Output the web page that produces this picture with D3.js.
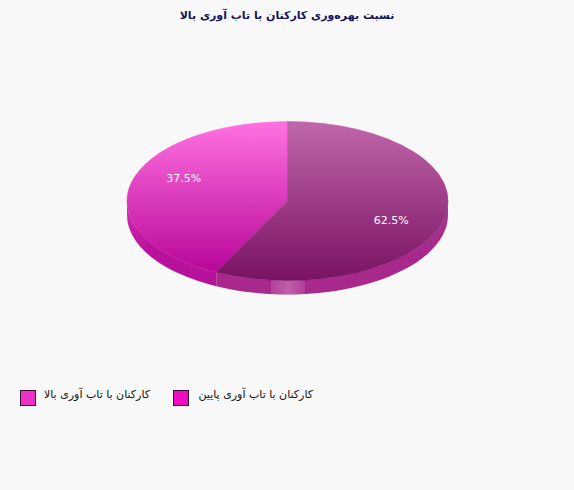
<!DOCTYPE html>
<html>
<head>
<meta charset="utf-8">
<script src="https://cdn.jsdelivr.net/npm/d3@7"></script>
<style>
html, body { margin: 0; padding: 0; background: #f8f8f8; }
svg { display: block; }
text { font-family: "DejaVu Sans", sans-serif; }
</style>
</head>
<body>
<div id="chart"></div>
<script>
const title = "نسبت بهره‌وری کارکنان با تاب آوری بالا";
const categories = ["کارکنان با تاب آوری پایین", "کارکنان با تاب آوری بالا"];
const values = [62.5, 37.5];
const labels = ["62.5%", "37.5%"];
const legendColors = ["#f00cc0", "#f032c4"];
const wallColors = [["#a03a88", "#a8288c"], ["#d42eb6", "#b8129c"]];
const topColors = [["#c066aa", "#7a1264"], ["#ff72e0", "#b40096"]];

const w = 574, h = 490;
const cx = 287.5, cy = 201, rx = 160.5, ry = 79.5, depth = 14;

const svg = d3.select("#chart").append("svg").attr("width", w).attr("height", h);
const defs = svg.append("defs");

// faces are drawn on a unit circle, so the gradient runs from -1 to 1
topColors.forEach((c, i) => {
    const g = defs.append("linearGradient").attr("id", "top" + i)
        .attr("gradientUnits", "userSpaceOnUse")
        .attr("x1", 0).attr("x2", 0).attr("y1", -1).attr("y2", 1);
    g.append("stop").attr("offset", 0).attr("stop-color", c[0]);
    g.append("stop").attr("offset", 1).attr("stop-color", c[1]);
});

// walls fade in from the colour of the face at the widest point
wallColors.forEach((c, i) => {
    const g = defs.append("linearGradient").attr("id", "wall" + i)
        .attr("gradientUnits", "userSpaceOnUse")
        .attr("x1", 0).attr("x2", 0).attr("y1", cy + 4).attr("y2", cy + 50);
    g.append("stop").attr("offset", 0).attr("stop-color", c[0]);
    g.append("stop").attr("offset", 1).attr("stop-color", c[1]);
});

const sheen = defs.append("linearGradient").attr("id", "sheen");
sheen.append("stop").attr("offset", 0).attr("stop-color", "#fff").attr("stop-opacity", 0.12);
sheen.append("stop").attr("offset", 0.5).attr("stop-color", "#fff").attr("stop-opacity", 0.26);
sheen.append("stop").attr("offset", 1).attr("stop-color", "#fff").attr("stop-opacity", 0.1);

const pie = d3.pie().sort(null)(values);

// the slices are cut at true screen angles, so move them on to the ellipse
const toEllipse = a => {
    const t = Math.atan2(Math.sin(a) / rx, Math.cos(a) / ry);
    return t < 0 ? t + 2 * Math.PI : t;
};
const px = t => cx + rx * Math.sin(t);
const py = t => cy - ry * Math.cos(t);

const wallPath = (t0, t1) => {
    const a = Math.max(t0, Math.PI / 2), b = Math.min(t1, 3 * Math.PI / 2);
    return `M${px(a)},${py(a)} A${rx},${ry} 0 0 1 ${px(b)},${py(b)}`
        + ` L${px(b)},${py(b) + depth} A${rx},${ry} 0 0 0 ${px(a)},${py(a) + depth} Z`;
};

const slices = pie.map((d, i) => ({
    t0: toEllipse(d.startAngle),
    t1: i === pie.length - 1 ? 2 * Math.PI : toEllipse(d.endAngle),
    mid: (d.startAngle + d.endAngle) / 2,
    i
}));

// side walls, left one first so the dark slice sits on top at the cut
svg.selectAll(".wall").data(slices.slice().reverse()).enter().append("path")
    .attr("class", "wall")
    .attr("d", d => wallPath(d.t0, d.t1))
    .attr("fill", d => `url(#wall${d.i})`);

// highlight on the front of the wall
defs.append("clipPath").attr("id", "wallClip").append("path")
    .attr("d", wallPath(slices[0].t0, slices[0].t1));
svg.append("rect")
    .attr("x", 271).attr("y", cy + ry - 6)
    .attr("width", 34).attr("height", depth + 10)
    .attr("fill", "url(#sheen)")
    .attr("clip-path", "url(#wallClip)");

// top faces
const arc = d3.arc().innerRadius(0).outerRadius(1);
svg.selectAll(".face").data(slices.slice().reverse()).enter().append("path")
    .attr("class", "face")
    .attr("transform", `translate(${cx},${cy}) scale(${rx},${ry})`)
    .attr("d", d => arc({ startAngle: d.t0, endAngle: d.t1 }))
    .attr("fill", d => `url(#top${d.i})`)
    .attr("stroke", d => `url(#top${d.i})`)
    .attr("stroke-width", 0.6)
    .attr("vector-effect", "non-scaling-stroke");

svg.selectAll(".pct").data(slices).enter().append("text")
    .attr("class", "pct")
    .attr("x", d => cx + rx * 0.7 * Math.sin(d.mid))
    .attr("y", d => cy - 2 - ry * 0.7 * Math.cos(d.mid))
    .attr("dy", "0.35em")
    .attr("text-anchor", "middle")
    .attr("fill", "#fff")
    .attr("font-size", 11)
    .text(d => labels[d.i]);

svg.append("text")
    .attr("x", 287).attr("y", 19)
    .attr("direction", "rtl")
    .attr("text-anchor", "middle")
    .attr("font-size", 11)
    .attr("font-weight", "bold")
    .attr("fill", "#14145a")
    .text(title);

// legend
const legendBox = d3.scaleOrdinal().domain(categories).range([173, 20]);
const legendText = d3.scaleOrdinal().domain(categories).range([313, 150]);

svg.selectAll(".box").data(categories).enter().append("rect")
    .attr("class", "box")
    .attr("x", d => legendBox(d) + 0.5)
    .attr("y", 390.5)
    .attr("width", 15).attr("height", 15)
    .attr("fill", (d, i) => legendColors[i])
    .attr("stroke", "#30102c");

svg.selectAll(".leg").data(categories).enter().append("text")
    .attr("class", "leg")
    .attr("x", d => legendText(d))
    .attr("y", 398)
    .attr("direction", "rtl")
    .attr("text-anchor", "start")
    .attr("font-size", 11)
    .attr("fill", "#111")
    .text(d => d);
</script>
</body>
</html>
